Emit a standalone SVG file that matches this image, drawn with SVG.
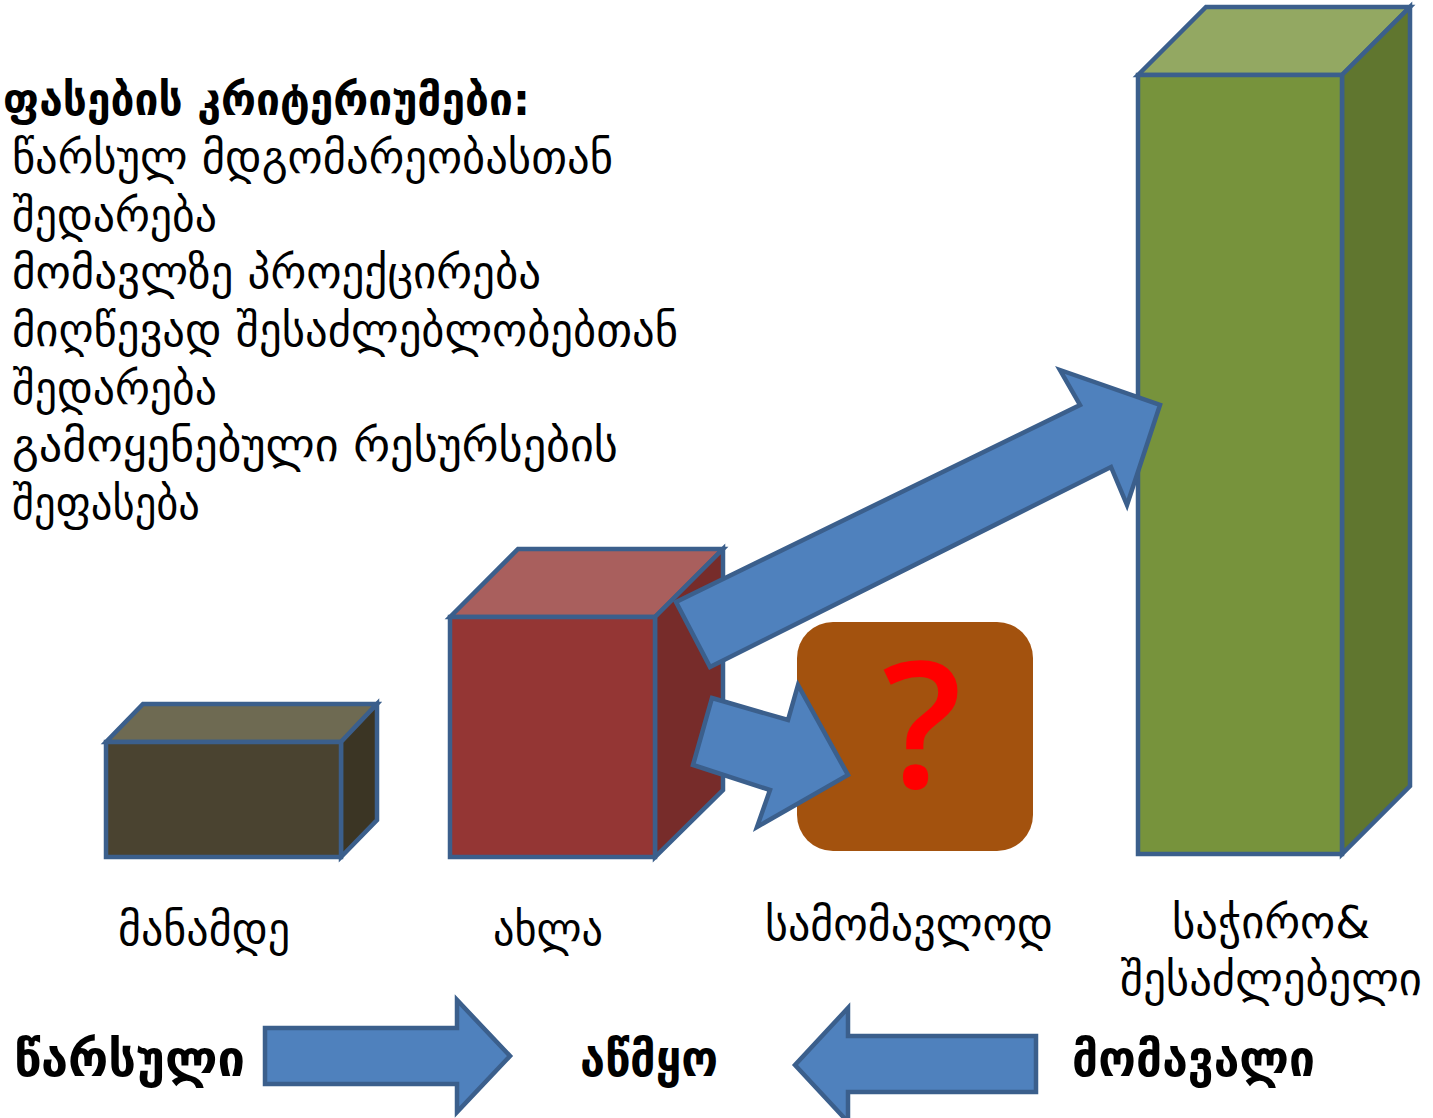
<svg xmlns="http://www.w3.org/2000/svg" width="1433" height="1118" viewBox="0 0 1433 1118">
<style>
.edge{stroke:#3b5f8c;stroke-width:4.5;stroke-linejoin:miter}
.arr{fill:#4f81bd;stroke:#3b5f8c;stroke-width:4.5;stroke-linejoin:miter}
.t{font-family:"DejaVu Sans","Noto Sans",sans-serif;font-size:45px;fill:#000}
.b{font-weight:bold;font-size:44px}
.bb{font-weight:bold;font-size:50px}
.m{text-anchor:middle}
</style>
<rect width="1433" height="1118" fill="#fff"/>
<g id="criteria" class="t">
<text x="3" y="115" class="b" textLength="527" lengthAdjust="spacingAndGlyphs">ფასების კრიტერიუმები:</text>
<text x="12" y="173" textLength="601" lengthAdjust="spacingAndGlyphs">წარსულ მდგომარეობასთან</text>
<text x="12" y="231" textLength="205" lengthAdjust="spacingAndGlyphs">შედარება</text>
<text x="12" y="288" textLength="529" lengthAdjust="spacingAndGlyphs">მომავლზე პროექცირება</text>
<text x="12" y="346" textLength="666" lengthAdjust="spacingAndGlyphs">მიღწევად შესაძლებლობებთან</text>
<text x="12" y="404" textLength="205" lengthAdjust="spacingAndGlyphs">შედარება</text>
<text x="12" y="461" textLength="606" lengthAdjust="spacingAndGlyphs">გამოყენებული რესურსების</text>
<text x="12" y="519" textLength="188" lengthAdjust="spacingAndGlyphs">შეფასება</text>
</g>
<g id="box-before">
<polygon class="edge" fill="#6e6a52" points="106,742 143,704 377,704 341,742"/>
<polygon class="edge" fill="#3b3524" points="341,742 377,704 377,820 341,857"/>
<rect class="edge" fill="#4a4330" x="106" y="742" width="235" height="115"/>
</g>
<g id="box-now">
<polygon class="edge" fill="#a95f5d" points="450,617 518,549 723,549 655,617"/>
<polygon class="edge" fill="#772c2a" points="655,617 723,549 723,790 655,857"/>
<rect class="edge" fill="#943634" x="450" y="617" width="205" height="240"/>
</g>
<g id="box-needed">
<polygon class="edge" fill="#93a862" points="1138,75 1206,7 1410,7 1342,75"/>
<polygon class="edge" fill="#60762f" points="1342,75 1410,7 1410,786 1342,854"/>
<rect class="edge" fill="#77933c" x="1138" y="75" width="204" height="779"/>
</g>
<g id="future-box">
<rect x="797" y="622" width="236" height="229" rx="36" fill="#a3520e"/>
<text x="922" y="788" text-anchor="middle" font-family="'Open Sans','Noto Sans',sans-serif" font-weight="600" font-size="176" fill="#ff0000">?</text>
</g>
<g id="connectors">
<polygon class="arr" points="676,602 1080,405 1060,370 1160,405 1127,505 1111,467 710,667"/>
<polygon class="arr" points="712,698 788,720 798,685 848,775 757,827 770,790 693,765"/>
<polygon class="arr" points="265,1028 457,1028 457,1000 510,1056 457,1112 457,1084 265,1084"/>
<polygon class="arr" points="1036,1036 848,1036 848,1008 795,1065 848,1122 848,1092 1036,1092"/>
</g>
<g id="labels" class="t">
<text x="118" y="945" textLength="172" lengthAdjust="spacingAndGlyphs">მანამდე</text>
<text x="493" y="945" textLength="110" lengthAdjust="spacingAndGlyphs">ახლა</text>
<text x="765" y="940" textLength="288" lengthAdjust="spacingAndGlyphs">სამომავლოდ</text>
<text x="1172" y="938" textLength="198" lengthAdjust="spacingAndGlyphs">საჭირო&amp;</text>
<text x="1120" y="995" textLength="302" lengthAdjust="spacingAndGlyphs">შესაძლებელი</text>
<text x="14" y="1076" class="bb" textLength="231" lengthAdjust="spacingAndGlyphs">წარსული</text>
<text x="580" y="1076" class="bb" textLength="138" lengthAdjust="spacingAndGlyphs">აწმყო</text>
<text x="1072" y="1076" class="bb" textLength="243" lengthAdjust="spacingAndGlyphs">მომავალი</text>
</g>
</svg>
